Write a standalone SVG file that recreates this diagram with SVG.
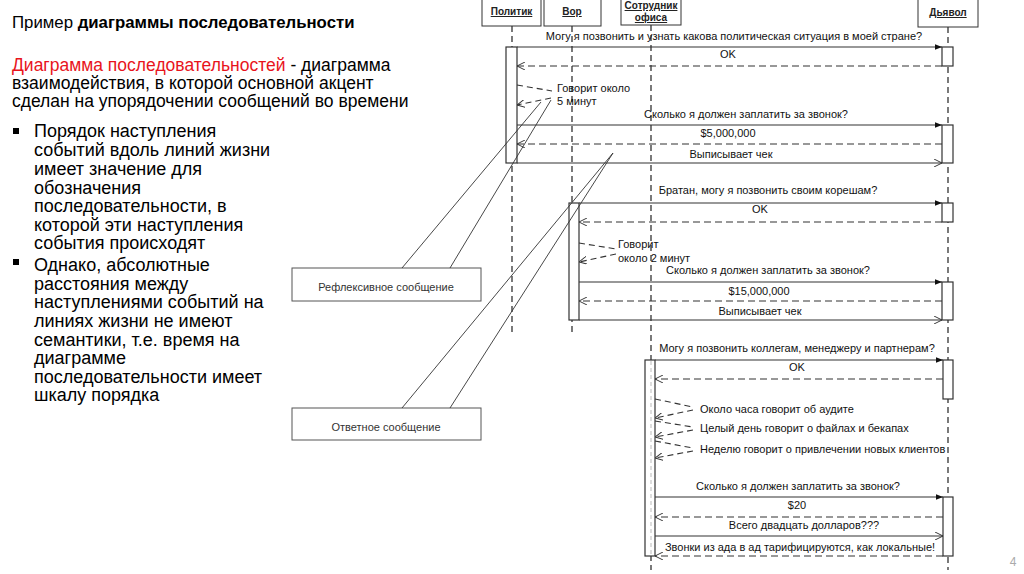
<svg xmlns="http://www.w3.org/2000/svg" width="1024" height="574" viewBox="0 0 1024 574">
<style>
.t{font-family:"Liberation Sans",Arial,sans-serif;fill:#000}
.lt{font-size:17.5px}
.bt{font-size:18px}
.d{font-family:"Liberation Sans",Arial,sans-serif;font-size:11px;fill:#111}
.hd{font-family:"Liberation Sans",Arial,sans-serif;font-size:10px;font-weight:bold;fill:#222;text-decoration:underline}
.box{fill:#fff;stroke:#333;stroke-width:1}
.act{fill:#fff;stroke:#333;stroke-width:1.2}
.life{stroke:#333;stroke-width:1.3;stroke-dasharray:6 4;fill:none}
.call{stroke:#333;stroke-width:1.1;fill:none}
.ret{stroke:#333;stroke-width:1.1;stroke-dasharray:7 4;fill:none}
.ref{stroke:#333;stroke-width:1.1;stroke-dasharray:6 4;fill:none}
.lead{stroke:#333;stroke-width:0.9;fill:none}
.cb{fill:#fff;stroke:#555;stroke-width:1}
.cl{font-family:"Liberation Sans",Arial,sans-serif;font-size:11px;fill:#333}
</style>
<defs>
<marker id="fa" viewBox="0 0 10 10" refX="10" refY="5" markerWidth="7" markerHeight="7" orient="auto" markerUnits="userSpaceOnUse"><path d="M0,1 L10,5 L0,9 z" fill="#111"/></marker>
<marker id="oa" viewBox="0 0 10 10" refX="10" refY="5" markerWidth="8" markerHeight="8" orient="auto" markerUnits="userSpaceOnUse"><path d="M0,0 L10,5 L0,10" fill="none" stroke="#333" stroke-width="1.2"/></marker>
</defs>
<rect width="1024" height="574" fill="#fff"/>

<g id="slide-text">
<text class="t" x="12" y="28" font-size="16.8">Пример <tspan font-weight="bold">диаграммы последовательности</tspan></text>
<text class="t lt" x="12" y="71"><tspan fill="#e8141c">Диаграмма последовательностей</tspan> - диаграмма</text>
<text class="t lt" x="12" y="89">взаимодействия, в которой основной акцент</text>
<text class="t lt" x="12" y="107">сделан на упорядочении сообщений во времени</text>
<rect x="13" y="128" width="6" height="6" fill="#000"/>
<text class="t bt" x="34" y="137">Порядок наступления</text>
<text class="t bt" x="34" y="156">событий вдоль линий жизни</text>
<text class="t bt" x="34" y="175">имеет значение для</text>
<text class="t bt" x="34" y="194">обозначения</text>
<text class="t bt" x="34" y="212">последовательности, в</text>
<text class="t bt" x="34" y="231">которой эти наступления</text>
<text class="t bt" x="34" y="249">события происходят</text>
<rect x="13" y="259" width="6" height="6" fill="#000"/>
<text class="t bt" x="34" y="271">Однако, абсолютные</text>
<text class="t bt" x="34" y="290">расстояния между</text>
<text class="t bt" x="34" y="308">наступлениями событий на</text>
<text class="t bt" x="34" y="327">линиях жизни не имеют</text>
<text class="t bt" x="34" y="346">семантики, т.е. время на</text>
<text class="t bt" x="34" y="364">диаграмме</text>
<text class="t bt" x="34" y="383">последовательности имеет</text>
<text class="t bt" x="34" y="401">шкалу порядка</text>
<text x="1013" y="566" font-family="Liberation Sans,Arial,sans-serif" font-size="12" fill="#aaa" text-anchor="middle">4</text>
</g>

<g id="politik">
<line class="life" x1="512" y1="26" x2="512" y2="336"/>
<rect class="box" x="482" y="-2" width="59" height="28"/>
<text class="hd" x="511.5" y="15" text-anchor="middle">Политик</text>
<rect class="act" x="506" y="47" width="11" height="116"/>
</g>
<g id="vor">
<line class="life" x1="572" y1="26" x2="572" y2="336"/>
<rect class="box" x="544" y="-2" width="57" height="28"/>
<text class="hd" x="572" y="15" text-anchor="middle">Вор</text>
<rect class="act" x="569" y="203" width="10" height="117"/>
</g>
<g id="sotrudnik">
<line class="life" x1="651" y1="25" x2="651" y2="570"/>
<rect class="box" x="621" y="-2" width="60" height="27"/>
<text class="hd" x="651" y="9" text-anchor="middle">Сотрудник</text>
<text class="hd" x="651" y="21" text-anchor="middle">офиса</text>
<rect class="act" x="645" y="360" width="10" height="196"/>
<line x1="651" y1="361" x2="651" y2="555" stroke="#bbb" stroke-width="1" stroke-dasharray="4 3"/>
</g>
<g id="dyavol">
<line class="life" x1="948" y1="27" x2="948" y2="570"/>
<rect class="box" x="918" y="-2" width="60" height="29"/>
<text class="hd" x="948" y="16" text-anchor="middle">Дьявол</text>
<rect class="act" x="942" y="47" width="11" height="19"/>
<rect class="act" x="942" y="125" width="11" height="38"/>
<rect class="act" x="942" y="203" width="11" height="19"/>
<rect class="act" x="942" y="282" width="11" height="38"/>
<rect class="act" x="943" y="360" width="10" height="39"/>
<rect class="act" x="943" y="497" width="10" height="59"/>
</g>

<g id="callout-reflexive">
<rect class="cb" x="292" y="268" width="189" height="33"/>
<text class="cl" x="386" y="291" text-anchor="middle">Рефлексивное сообщение</text>
</g>
<g id="callout-answer">
<rect class="cb" x="292" y="408" width="189" height="32"/>
<text class="cl" x="386" y="431" text-anchor="middle">Ответное сообщение</text>
</g>

<g id="connectors">
<line class="lead" x1="402" y1="268" x2="541" y2="102"/>
<line class="lead" x1="450" y1="268" x2="551" y2="100"/>
<line class="lead" x1="402" y1="408" x2="613" y2="153"/>
<line class="lead" x1="450" y1="408" x2="613" y2="153"/>

<text class="d" x="734" y="40" text-anchor="middle">Могу я позвонить и узнать какова политическая ситуация в моей стране?</text>
<line class="call" x1="517" y1="47" x2="942" y2="47" marker-end="url(#fa)"/>
<text class="d" x="728" y="58" text-anchor="middle">OK</text>
<line class="ret" x1="942" y1="66" x2="517" y2="66" marker-end="url(#oa)"/>
<polyline class="ref" points="517,85 552,91"/>
<polyline class="ref" points="551,98 517,105" marker-end="url(#oa)"/>
<text class="d" x="557" y="92">Говорит около</text>
<text class="d" x="557" y="105">5 минут</text>
<text class="d" x="746" y="118" text-anchor="middle">Сколько я должен заплатить за звонок?</text>
<line class="call" x1="517" y1="125" x2="942" y2="125" marker-end="url(#fa)"/>
<text class="d" x="728" y="137" text-anchor="middle">$5,000,000</text>
<line class="ret" x1="942" y1="144" x2="517" y2="144" marker-end="url(#oa)"/>
<text class="d" x="731" y="158" text-anchor="middle">Выписывает чек</text>
<line class="call" x1="517" y1="163" x2="942" y2="163" marker-end="url(#oa)"/>

<text class="d" x="768" y="194" text-anchor="middle">Братан, могу я позвонить своим корешам?</text>
<line class="call" x1="579" y1="203" x2="942" y2="203" marker-end="url(#fa)"/>
<text class="d" x="760" y="213" text-anchor="middle">OK</text>
<line class="ret" x1="942" y1="222" x2="579" y2="222" marker-end="url(#oa)"/>
<polyline class="ref" points="579,243 616,249"/>
<polyline class="ref" points="616,254 579,262" marker-end="url(#oa)"/>
<text class="d" x="618" y="248">Говорит</text>
<text class="d" x="618" y="262">около 2 минут</text>
<text class="d" x="768" y="274" text-anchor="middle">Сколько я должен заплатить за звонок?</text>
<line class="call" x1="579" y1="282" x2="942" y2="282" marker-end="url(#fa)"/>
<text class="d" x="759" y="295" text-anchor="middle">$15,000,000</text>
<line class="ret" x1="942" y1="301" x2="579" y2="301" marker-end="url(#oa)"/>
<text class="d" x="760" y="315" text-anchor="middle">Выписывает чек</text>
<line class="call" x1="579" y1="320" x2="942" y2="320" marker-end="url(#oa)"/>

<text class="d" x="797" y="352" text-anchor="middle">Могу я позвонить коллегам, менеджеру и партнерам?</text>
<line class="call" x1="655" y1="360" x2="943" y2="360" marker-end="url(#fa)"/>
<text class="d" x="797" y="371" text-anchor="middle">OK</text>
<line class="ret" x1="943" y1="379" x2="655" y2="379" marker-end="url(#oa)"/>
<polyline class="ref" points="655,399 693,407"/>
<polyline class="ref" points="693,410 655,418" marker-end="url(#oa)"/>
<text class="d" x="700" y="413">Около часа говорит об аудите</text>
<polyline class="ref" points="655,421 693,427"/>
<polyline class="ref" points="693,430 655,437" marker-end="url(#oa)"/>
<text class="d" x="700" y="432">Целый день говорит о файлах и бекапах</text>
<polyline class="ref" points="655,441 693,448"/>
<polyline class="ref" points="693,451 655,458" marker-end="url(#oa)"/>
<text class="d" x="700" y="453">Неделю говорит о привлечении новых клиентов</text>
<text class="d" x="798" y="490" text-anchor="middle">Сколько я должен заплатить за звонок?</text>
<line class="call" x1="655" y1="497" x2="943" y2="497" marker-end="url(#fa)"/>
<text class="d" x="797" y="509" text-anchor="middle">$20</text>
<line class="ret" x1="943" y1="517" x2="655" y2="517" marker-end="url(#oa)"/>
<text class="d" x="804" y="529" text-anchor="middle">Всего двадцать долларов???</text>
<line class="call" x1="655" y1="536" x2="943" y2="536" marker-end="url(#oa)"/>
<text class="d" x="800" y="551" text-anchor="middle">Звонки из ада в ад тарифицируются, как локальные!</text>
<line class="ret" x1="943" y1="556" x2="655" y2="556" marker-end="url(#oa)"/>
</g>
</svg>
